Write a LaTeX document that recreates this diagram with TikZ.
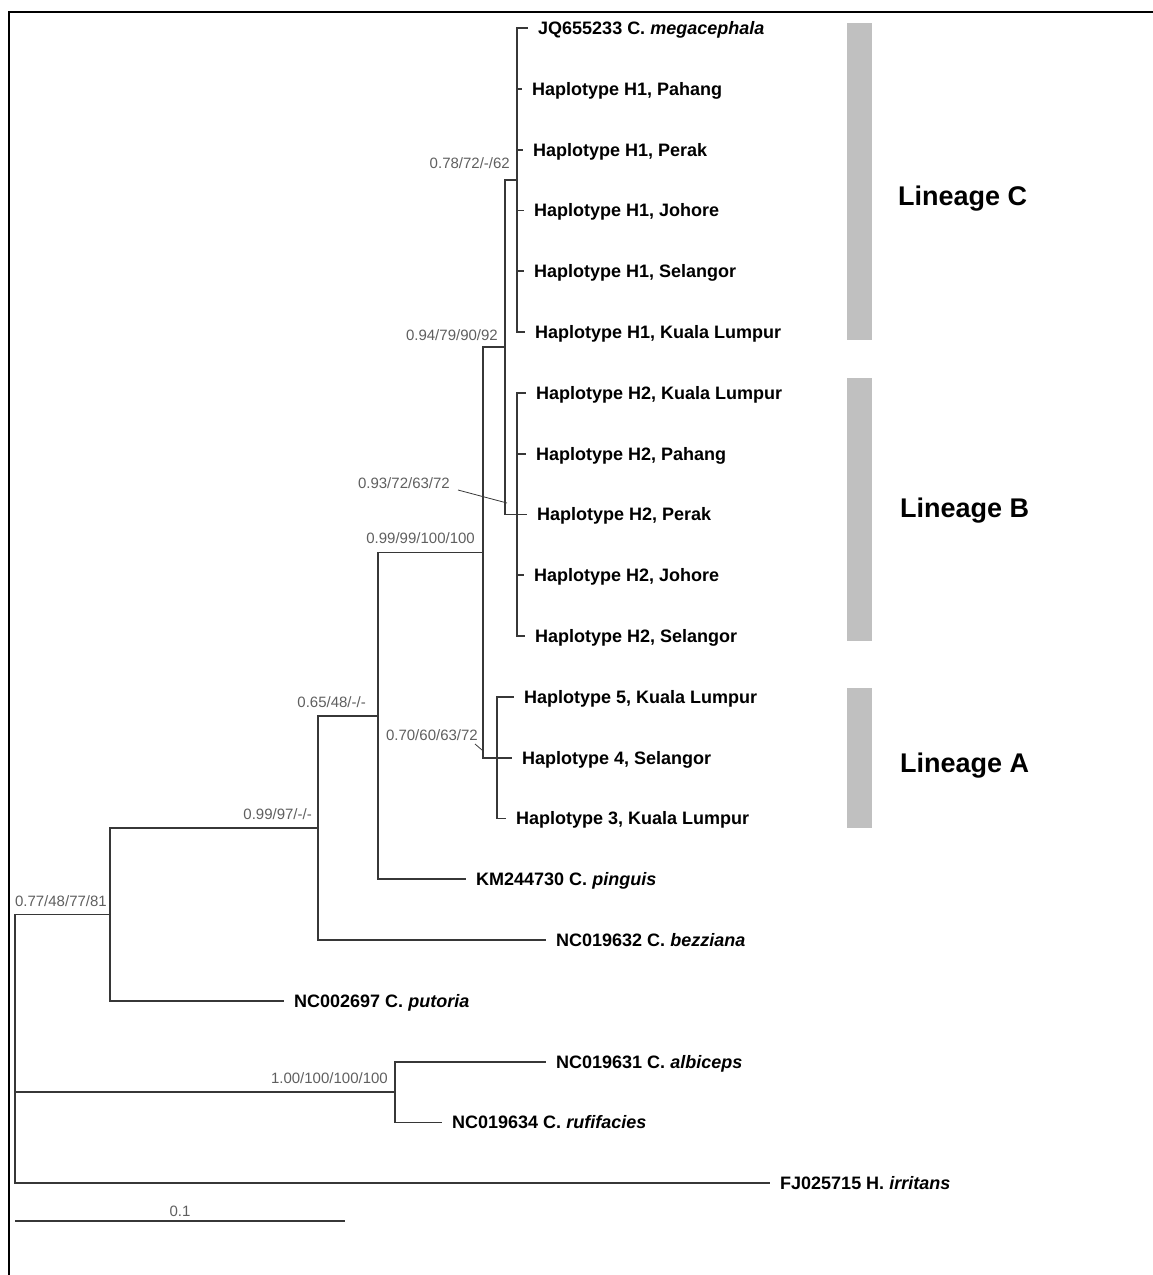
\documentclass[tikz,border=0pt]{standalone}
\usepackage{fontspec}
\setmainfont{Liberation Sans}
\usepackage{tikz}
\usetikzlibrary{positioning}
\definecolor{treecol}{RGB}{55, 55, 55}
\definecolor{gra}{RGB}{95, 95, 95}
\definecolor{barcol}{RGB}{192, 192, 192}
\tikzset{
    tipnode/.style = {anchor=west, inner xsep=10pt, inner ysep=0pt, text height=13pt, text depth=0pt, 
      font=\fontsize{18}{20}\selectfont\bfseries},
    suppnode/.style = {inner sep=0pt, text height=10.8pt, text depth=0pt, text=gra, font=\fontsize{15}{17}\selectfont},
    lineagenode/.style = {anchor=west, inner sep=0pt, text height=19.4pt, text depth=0pt, 
      font=\fontsize{27}{30}\selectfont\bfseries},
    barnode/.style = {draw=none, fill=barcol, rectangle, inner sep=0pt, minimum width=25pt},
    branch/.style = {draw=treecol, line width=1.8pt},
    leader/.style = {draw=treecol, line width=0.8pt},
    frameline/.style = {draw=black, line width=2.2pt}
}

\begin{document}
\begin{tikzpicture}[x=1pt, y=-1pt]
\useasboundingbox (0,0) rectangle (1153,1275);
\draw[frameline] (8,12) -- (1153,12);
\draw[frameline] (9,11) -- (9,1275);

\coordinate (root) at (15,1048);
\coordinate (n77) at (110,914.4);
\coordinate (n99a) at (318,827.9);
\coordinate (n65) at (378,715.8);
\coordinate (n99b) at (483,552.4);
\coordinate (n94) at (505,347.2);
\coordinate (n78) at (517,180.2);
\coordinate (n93) at (517,514.4);
\coordinate (n70) at (497,757.6);
\coordinate (n100) at (395,1092);

\node [name=t0, tipnode] at (528,28) {JQ655233 C.~\textit{megacephala}};
\node [name=t1, tipnode] at (522,88.8) {Haplotype H1, Pahang};
\node [name=t2, tipnode] at (523,149.6) {Haplotype H1, Perak};
\node [name=t3, tipnode] at (524,210.4) {Haplotype H1, Johore};
\node [name=t4, tipnode] at (524,271.2) {Haplotype H1, Selangor};
\node [name=t5, tipnode] at (525,332) {Haplotype H1, Kuala Lumpur};
\node [name=t6, tipnode] at (526,392.8) {Haplotype H2, Kuala Lumpur};
\node [name=t7, tipnode] at (526,453.6) {Haplotype H2, Pahang};
\node [name=t8, tipnode] at (527,514.4) {Haplotype H2, Perak};
\node [name=t9, tipnode] at (524,575.2) {Haplotype H2, Johore};
\node [name=t10, tipnode] at (525,636) {Haplotype H2, Selangor};
\node [name=t11, tipnode] at (514,696.8) {Haplotype 5, Kuala Lumpur};
\node [name=t12, tipnode] at (512,757.6) {Haplotype 4, Selangor};
\node [name=t13, tipnode] at (506,818.4) {Haplotype 3, Kuala Lumpur};
\node [name=t14, tipnode] at (466,879.2) {KM244730 C.~\textit{pinguis}};
\node [name=t15, tipnode] at (546,940) {NC019632 C.~\textit{bezziana}};
\node [name=t16, tipnode] at (284,1000.8) {NC002697 C.~\textit{putoria}};
\node [name=t17, tipnode] at (546,1061.6) {NC019631 C.~\textit{albiceps}};
\node [name=t18, tipnode] at (442,1122.4) {NC019634 C.~\textit{rufifacies}};
\node [name=t19, tipnode] at (770,1183.2) {FJ025715 H.~\textit{irritans}};

\draw[branch] (root) |- (n77) (root) |- (n100) (root) |- (t19.west);
\draw[branch] (n77) |- (n99a) (n77) |- (t16.west);
\draw[branch] (n99a) |- (n65) (n99a) |- (t15.west);
\draw[branch] (n65) |- (n99b) (n65) |- (t14.west);
\draw[branch] (n99b) |- (n94) (n99b) |- (n70);
\draw[branch] (n94) |- (n78) (n94) |- (n93);
\draw[branch] (n78) |- (t0.west) (n78) |- (t1.west) (n78) |- (t2.west) (n78) |- (t3.west) (n78) |- (t4.west) (n78) |- (t5.west);
\draw[branch] (n93) |- (t6.west) (n93) |- (t7.west) (n93) |- (t8.west) (n93) |- (t9.west) (n93) |- (t10.west);
\draw[branch] (n70) |- (t11.west) (n70) |- (t12.west) (n70) |- (t13.west);
\draw[branch] (n100) |- (t17.west) (n100) |- (t18.west);

\node [name=s77, suppnode, above left=7.6pt and 3pt of n77] {0.77/48/77/81};
\node [name=s99a, suppnode, above left=8.6pt and 6pt of n99a] {0.99/97/-/-};
\node [name=s65, suppnode, above left=8pt and 12pt of n65] {0.65/48/-/-};
\node [name=s99b, suppnode, above left=8.6pt and 8pt of n99b] {0.99/99/100/100};
\node [name=s94, suppnode, above left=6.6pt and 7pt of n94] {0.94/79/90/92};
\node [name=s78, suppnode, above left=12pt and 7pt of n78] {0.78/72/-/62};
\node [name=s100, suppnode, above left=8pt and 7pt of n100] {1.00/100/100/100};
\node [name=s93, suppnode, anchor=east] at (450,483) {0.93/72/63/72};
\node [name=s70, suppnode, anchor=east] at (478,735) {0.70/60/63/72};
\coordinate (l93) at (507,503);
\coordinate (l70) at (482,750);
\draw[leader] ([xshift=8pt, yshift=-7pt]s93.east) -- (l93);
\draw[leader] ([xshift=-3pt, yshift=-9pt]s70.east) -- (l70);

\node [name=barC, barnode, minimum height=317pt] at (859.5,181.5) {};
\node [name=barB, barnode, minimum height=263pt] at (859.5,509.5) {};
\node [name=barA, barnode, minimum height=140pt] at (859.5,758) {};
\node [name=linC, lineagenode] at (898,196) {Lineage C};
\node [name=linB, lineagenode] at (900,508) {Lineage B};
\node [name=linA, lineagenode] at (900,763) {Lineage A};

\coordinate (sbL) at (15,1221);
\coordinate (sbR) at (345,1221);
\draw[branch] (sbL) -- (sbR) node[name=sbT, suppnode, midway, above=4pt] {0.1};
\end{tikzpicture}
\end{document}
